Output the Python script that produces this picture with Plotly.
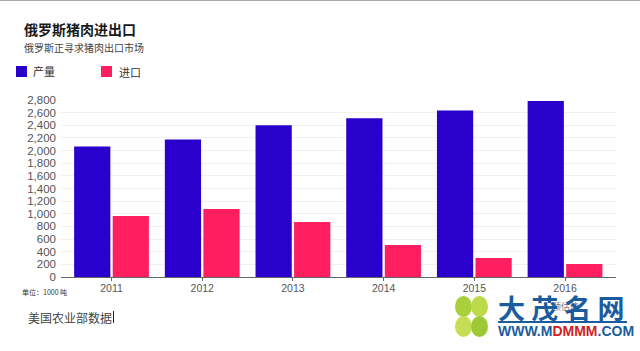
import plotly.graph_objects as go

years = ["2011", "2012", "2013", "2014", "2015", "2016"]
production = [2065, 2175, 2400, 2510, 2635, 2785]
imports = [965, 1075, 870, 506, 300, 205]
y_ticks = list(range(0, 2801, 200))
BLUE = "#2a00cc"
PINK = "#ff1f60"
GREY = "#555555"
SANS = "Liberation Sans, Arial, sans-serif"
CJK = "Noto Sans CJK SC, sans-serif"

W, H = 640, 351
L, R, T, B = 61, 616, 100, 277


def px(x):
    return (x - L) / (R - L)


def py(y):
    return (B - y) / (B - T)


def note(x, y, text, size, color=GREY, font=CJK, xanchor="left"):
    return dict(xref="paper", yref="paper", x=px(x), y=py(y), text=text, showarrow=False,
                xanchor=xanchor, yanchor="middle", align="left",
                font=dict(family=font, size=size, color=color),
                borderpad=0, borderwidth=0)


def rect(x0, y0, x1, y1, color):
    return dict(type="rect", xref="paper", yref="paper", x0=px(x0), x1=px(x1), y0=py(y0), y1=py(y1),
                fillcolor=color, line=dict(width=0))


def petal(x0, y0, x1, y1, color):
    return dict(type="circle", xref="paper", yref="paper", x0=px(x0), x1=px(x1), y0=py(y0), y1=py(y1),
                fillcolor=color, line=dict(width=0))


fig = go.Figure()
fig.add_bar(x=years, y=production, name="产量", marker=dict(color=BLUE, line=dict(width=0)))
fig.add_bar(x=years, y=imports, name="进口", marker=dict(color=PINK, line=dict(width=0)))

annotations = [
    note(24, 29, "<b>俄罗斯猪肉进出口</b>", 14, "#1a1a1a"),
    note(24, 47, "俄罗斯正寻求猪肉出口市场", 10, "#444444"),
    note(33, 71, "产量", 11, "#333333"),
    note(119, 72, "进口", 11, "#333333"),
    note(22, 292, "单位：1000 吨", 7, "#333333"),
    note(28, 317, "美国农业部数据", 12, "#444444"),
    note(552, 306, "预估值", 9, "#777777"),
    note(498, 307, "<b>大 茂 名 网</b>", 27, "#1a5c9e"),
    note(498, 331, "<b>WWW.M<span style='color:#d11f1f'>DMMM</span>.COM</b>", 14, "#1a5c9e", SANS),
]

shapes = [
    rect(0, 0, 640, 1, "#a8a8a8"),
    rect(16, 66, 27, 77, BLUE),
    rect(101, 66, 112, 77, PINK),
    rect(113, 311, 114, 323, "#222222"),
    rect(498, 321, 627, 323, "#1a5c9e"),
    petal(455, 296, 472, 317, "#a9cf3c"),
    petal(471, 296, 488, 317, "#bcd94a"),
    petal(455, 316, 472, 337, "#c6de55"),
    petal(471, 316, 488, 337, "#9dc936"),
]

fig.update_layout(
    width=W, height=H, autosize=False,
    margin=dict(l=L, r=W - R, t=T, b=H - B, pad=0),
    paper_bgcolor="white", plot_bgcolor="white",
    barmode="group", bargap=0.15, bargroupgap=0.06,
    showlegend=False,
    annotations=annotations, shapes=shapes,
    xaxis=dict(type="category", range=[-0.557, 5.562], ticks="outside", ticklen=3, tickwidth=1,
               tickcolor="#666666", showline=True, linecolor="#666666", linewidth=1, showgrid=False,
               ticklabelstandoff=-2,
               tickfont=dict(family=SANS, size=10.5, color=GREY)),
    yaxis=dict(range=[0, 2800], tickvals=y_ticks, tickformat=",d", showgrid=True, gridcolor="#f1f1f1",
               gridwidth=1, zeroline=False, ticks="", ticklabelstandoff=4,
               tickfont=dict(family=SANS, size=11.5, color=GREY)),
)

fig.write_html("out.html", config={"displayModeBar": False},
               post_script="document.body.style.margin='0';document.body.style.overflow='hidden';")
